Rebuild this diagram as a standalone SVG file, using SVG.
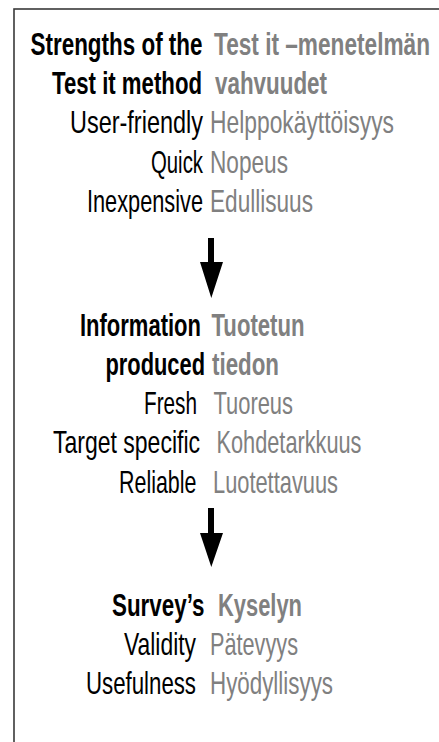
<svg xmlns="http://www.w3.org/2000/svg" width="439" height="742" viewBox="0 0 439 742">
<style>
  text { font-family: "Liberation Sans Narrow", "Liberation Sans", Arial, sans-serif; font-size: 32px; }
  .en { fill: #000000; text-anchor: end; }
  .fi { fill: #808080; text-anchor: start; }
  .b { font-weight: bold; }
  .arrow { fill: #000000; stroke: none; }
  .frame { fill: none; stroke: #3a3a3a; stroke-width: 1.6; }
</style>
<rect x="0" y="0" width="439" height="742" fill="#ffffff"/>
<rect class="frame" x="14" y="9" width="500" height="800"/>
<g id="strengths" transform="scale(0.7 1)">
  <text class="en b" x="289.29" y="55" textLength="245.71" lengthAdjust="spacingAndGlyphs">Strengths of the</text>
  <text class="fi b" x="305.71" y="55" textLength="308.57" lengthAdjust="spacingAndGlyphs">Test it –menetelmän</text>
  <text class="en b" x="288.57" y="94" textLength="214.29" lengthAdjust="spacingAndGlyphs">Test it method</text>
  <text class="fi b" x="307.14" y="94" textLength="160" lengthAdjust="spacingAndGlyphs">vahvuudet</text>
  <text class="en" x="290" y="133" textLength="190" lengthAdjust="spacingAndGlyphs">User-friendly</text>
  <text class="fi" x="300" y="133" textLength="262.86" lengthAdjust="spacingAndGlyphs">Helppokäyttöisyys</text>
  <text class="en" x="290" y="173" textLength="74.29" lengthAdjust="spacingAndGlyphs">Quick</text>
  <text class="fi" x="300" y="173" textLength="111.43" lengthAdjust="spacingAndGlyphs">Nopeus</text>
  <text class="en" x="290" y="212" textLength="165.71" lengthAdjust="spacingAndGlyphs">Inexpensive</text>
  <text class="fi" x="300" y="212" textLength="147.14" lengthAdjust="spacingAndGlyphs">Edullisuus</text>
</g>
<g id="information" transform="scale(0.7 1)">
  <text class="en b" x="287.14" y="336" textLength="172.86" lengthAdjust="spacingAndGlyphs">Information</text>
  <text class="fi b" x="302.14" y="336" textLength="132.86" lengthAdjust="spacingAndGlyphs">Tuotetun</text>
  <text class="en b" x="292.86" y="375" textLength="142.14" lengthAdjust="spacingAndGlyphs">produced</text>
  <text class="fi b" x="302.86" y="375" textLength="95.71" lengthAdjust="spacingAndGlyphs">tiedon</text>
  <text class="en" x="281.43" y="414" textLength="75.71" lengthAdjust="spacingAndGlyphs">Fresh</text>
  <text class="fi" x="305" y="414" textLength="113.57" lengthAdjust="spacingAndGlyphs">Tuoreus</text>
  <text class="en" x="285.71" y="453" textLength="210" lengthAdjust="spacingAndGlyphs">Target specific</text>
  <text class="fi" x="309.29" y="453" textLength="207.14" lengthAdjust="spacingAndGlyphs">Kohdetarkkuus</text>
  <text class="en" x="280.71" y="493" textLength="110.71" lengthAdjust="spacingAndGlyphs">Reliable</text>
  <text class="fi" x="304.29" y="493" textLength="178.57" lengthAdjust="spacingAndGlyphs">Luotettavuus</text>
</g>
<g id="survey" transform="scale(0.7 1)">
  <text class="en b" x="292.14" y="616" textLength="132.14" lengthAdjust="spacingAndGlyphs">Survey’s</text>
  <text class="fi b" x="311.43" y="616" textLength="120" lengthAdjust="spacingAndGlyphs">Kyselyn</text>
  <text class="en" x="280" y="655" textLength="102.86" lengthAdjust="spacingAndGlyphs">Validity</text>
  <text class="fi" x="300" y="655" textLength="125.71" lengthAdjust="spacingAndGlyphs">Pätevyys</text>
  <text class="en" x="280" y="694" textLength="157.14" lengthAdjust="spacingAndGlyphs">Usefulness</text>
  <text class="fi" x="300" y="694" textLength="175.71" lengthAdjust="spacingAndGlyphs">Hyödyllisyys</text>
</g>
<g id="connectors">
  <path class="arrow" d="M208,238 H214 V262 H223 L211.3,298 L200,262 H208 Z"/>
  <path class="arrow" d="M208,508 H214 V533 H223 L211.3,567 L200,533 H208 Z"/>
</g>
</svg>
